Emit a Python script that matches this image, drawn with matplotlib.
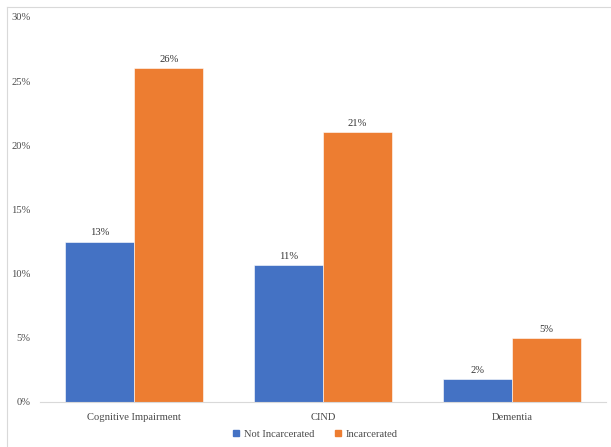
import matplotlib.pyplot as plt
from matplotlib.lines import Line2D
import numpy as np

categories = ["Cognitive Impairment", "CIND", "Dementia"]
not_incarcerated = [12.5, 10.7, 1.8]
incarcerated = [26.0, 21.0, 5.0]
not_inc_labels = ["13%", "11%", "2%"]
inc_labels = ["26%", "21%", "5%"]
yticks = [0, 5, 10, 15, 20, 25, 30]

plt.rcParams['font.family'] = ['Liberation Serif', 'DejaVu Serif']
fs = 7.6

fig = plt.figure(figsize=(6.11, 4.47), dpi=100)
ax = fig.add_axes([0.0655, 0.1007, 0.9265, 0.8613])

x = np.arange(len(categories))
w = 0.366
b1 = ax.bar(x - w / 2, not_incarcerated, w, color="#4472C4", label="Not Incarcerated",
            edgecolor="white", linewidth=0.4)
b2 = ax.bar(x + w / 2, incarcerated, w, color="#ED7D31", label="Incarcerated",
            edgecolor="white", linewidth=0.4)
ax.bar_label(b1, labels=not_inc_labels, padding=3, fontsize=fs, color="#333333")
ax.bar_label(b2, labels=inc_labels, padding=3, fontsize=fs, color="#333333")

ax.set_xlim(-0.5, 2.5)
ax.set_ylim(0, 30)
ax.set_yticks(yticks)
ax.set_yticklabels([f"{v}%" for v in yticks])
ax.set_xticks(x)
ax.set_xticklabels(categories)
ax.tick_params(length=0, labelsize=fs, labelcolor="#4a4a4a")
ax.tick_params(axis="y", pad=7)
ax.tick_params(axis="x", pad=8)
for s in ["top", "right", "left"]:
    ax.spines[s].set_visible(False)
ax.spines["bottom"].set_color("#D9D9D9")
ax.spines["bottom"].set_linewidth(0.8)

handles = [Line2D([], [], marker="s", linestyle="", color="#4472C4", markersize=4),
           Line2D([], [], marker="s", linestyle="", color="#ED7D31", markersize=4)]
fig.legend(handles, ["Not Incarcerated", "Incarcerated"], loc="center",
           bbox_to_anchor=(0.51, 0.028), ncol=2, frameon=False, fontsize=fs,
           handletextpad=-0.3, columnspacing=1.3, labelcolor="#4a4a4a")

# chart border
fig.add_artist(Line2D([0.0115, 0.0115], [0, 0.985], color="#D9D9D9", linewidth=0.8))
fig.add_artist(Line2D([0.0115, 1.0], [0.985, 0.985], color="#D9D9D9", linewidth=0.8))

fig.savefig("out.png", dpi=100)
